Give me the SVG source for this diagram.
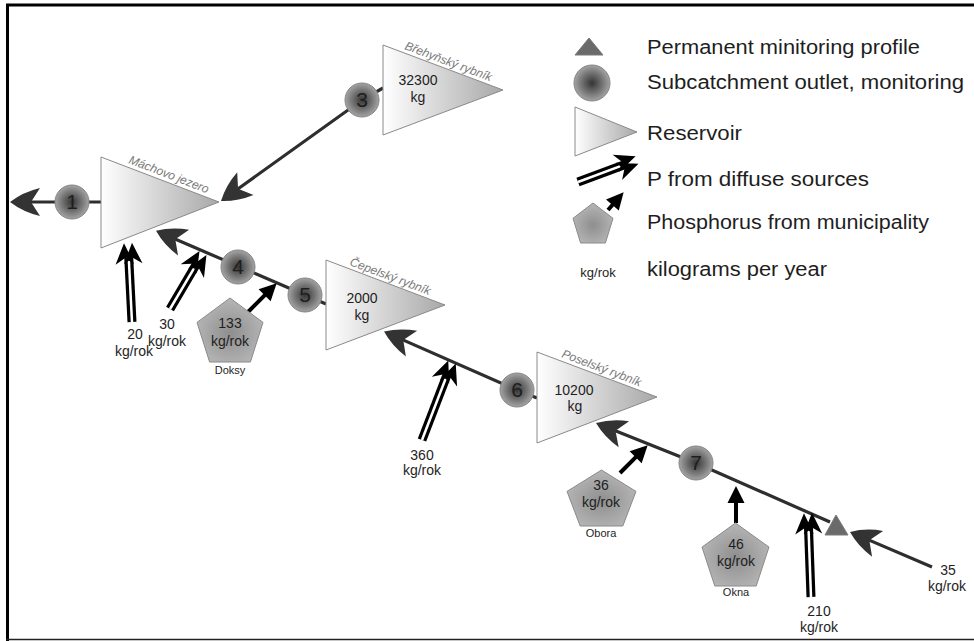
<svg xmlns="http://www.w3.org/2000/svg" width="974" height="641" viewBox="0 0 974 641">
<style>
text{font-family:"Liberation Sans",Arial,sans-serif;fill:#1e1e1e}
.num{font-size:21px;text-anchor:middle}
.val{font-size:14px;text-anchor:middle}
.town{font-size:11px;text-anchor:middle}
.lake{font-size:12px;font-style:italic;fill:#7a7a7a}
.leg{font-size:20px}
.res{fill:url(#res);stroke:#8a8a8a;stroke-width:1}
.circ{fill:url(#circ);stroke:#858585;stroke-width:1}
.pent{fill:url(#pent);stroke:#8a8a8a;stroke-width:1}
.flow{fill:none;stroke:#2e2e2e;stroke-width:3.2}
.muni{fill:none;stroke:#000;stroke-width:4}
.dif{fill:none;stroke:#000;stroke-width:9}
.difw{fill:none;stroke:#fff;stroke-width:2.5}
</style>
<defs>
<linearGradient id="res" x1="0" y1="0" x2="1" y2="0">
<stop offset="0" stop-color="#ffffff"/><stop offset="1" stop-color="#a8a8a8"/>
</linearGradient>
<radialGradient id="circ" cx="0.5" cy="0.5" r="0.5">
<stop offset="0" stop-color="#353535"/><stop offset="0.6" stop-color="#767676"/><stop offset="1" stop-color="#a4a4a4"/>
</radialGradient>
<radialGradient id="pent" cx="0.5" cy="0.55" r="0.55">
<stop offset="0" stop-color="#8e8e8e"/><stop offset="1" stop-color="#b6b6b6"/>
</radialGradient>
<marker id="mflow" markerUnits="userSpaceOnUse" orient="auto" overflow="visible" refX="-10" refY="0" markerWidth="1" markerHeight="1">
<path d="M0,0 Q-13,-10 -30,-14 L-21,0 L-30,14 Q-13,10 0,0 Z" fill="#333"/>
</marker>
<marker id="mmuni" markerUnits="userSpaceOnUse" orient="auto" overflow="visible" refX="0" refY="0" markerWidth="1" markerHeight="1">
<path d="M9,0 L-8,-8.5 L-8,8.5 Z" fill="#000"/>
</marker>
<marker id="mdif" markerUnits="userSpaceOnUse" orient="auto" overflow="visible" refX="-12" refY="0" markerWidth="1" markerHeight="1">
<path d="M0,-4 L-21,-13.5 L-15,-4 L-21,5 Z M0,4 L-21,-5 L-15,4 L-21,13.5 Z" fill="#000"/>
</marker>
</defs>
<rect width="974" height="641" fill="#fff"/>
<g id="frame">
<path d="M7.5,641 V5 H974" fill="none" stroke="#000" stroke-width="3"/>
<path d="M6,639.5 H974" fill="none" stroke="#222" stroke-width="1.5"/>
</g>
<g id="connectors">
<path class="flow" d="M101,202 H20" marker-end="url(#mflow)"/>
<path class="flow" d="M383,88 L362,100 L229.1,195.2" marker-end="url(#mflow)"/>
<path class="flow" d="M326,304 L165.2,234.8" marker-end="url(#mflow)"/>
<path class="flow" d="M537,398 L517,390 L393.2,335.6" marker-end="url(#mflow)"/>
<path class="flow" d="M830,522 L696,463 L605.3,426.7" marker-end="url(#mflow)"/>
<path class="flow" d="M932,567 L859.2,535.9" marker-end="url(#mflow)"/>
<path class="muni" d="M248,312 L270.3,289.7" marker-end="url(#mmuni)"/>
<path class="muni" d="M620,473 L641.3,451.7" marker-end="url(#mmuni)"/>
<path class="muni" d="M736,523 L736,495" marker-end="url(#mmuni)"/>
<path class="dif" d="M132,322 L128.6,255"/><path class="difw" d="M132,322 L128.6,255" marker-end="url(#mdif)"/>
<path class="dif" d="M170,309 L196.9,263.3"/><path class="difw" d="M170,309 L196.9,263.3" marker-end="url(#mdif)"/>
<path class="dif" d="M422,440 L447.7,373.2"/><path class="difw" d="M422,440 L447.7,373.2" marker-end="url(#mdif)"/>
<path class="dif" d="M811,597 L808.4,525"/><path class="difw" d="M811,597 L808.4,525" marker-end="url(#mdif)"/>
</g>
<g id="res-machovo">
<polygon class="res" points="101,157 101,248 219,202"/>
<text class="lake" transform="translate(128,163) rotate(21)">Máchovo jezero</text>
</g>
<g id="res-brehynsky">
<polygon class="res" points="383,45 383,135 503,90"/>
<text class="lake" transform="translate(404,49) rotate(20.6)">Břehyňský rybník</text>
<text class="val" x="418" y="85">32300</text>
<text class="val" x="418" y="102">kg</text>
</g>
<g id="res-cepelsky">
<polygon class="res" points="326,260 326,350 445,305"/>
<text class="lake" transform="translate(349,265) rotate(20.7)">Čepelský rybník</text>
<text class="val" x="362" y="303">2000</text>
<text class="val" x="362" y="320">kg</text>
</g>
<g id="res-poselsky">
<polygon class="res" points="537,352 537,443 657,397"/>
<text class="lake" transform="translate(561,357) rotate(20.6)">Poselský rybník</text>
<text class="val" x="574" y="395">10200</text>
<text class="val" x="575" y="411">kg</text>
</g>
<g id="node1"><circle class="circ" cx="72" cy="202" r="17"/><text class="num" x="72" y="209">1</text></g>
<g id="node3"><circle class="circ" cx="362" cy="100" r="17"/><text class="num" x="362" y="107">3</text></g>
<g id="node4"><circle class="circ" cx="238" cy="267" r="17"/><text class="num" x="238" y="274">4</text></g>
<g id="node5"><circle class="circ" cx="305" cy="295" r="17"/><text class="num" x="305" y="302">5</text></g>
<g id="node6"><circle class="circ" cx="517" cy="390" r="17"/><text class="num" x="517" y="397">6</text></g>
<g id="node7"><circle class="circ" cx="696" cy="463" r="17"/><text class="num" x="696" y="470">7</text></g>
<g id="profile"><polygon points="825,535 836,515 848,535" fill="#6a6a6a" stroke="#7a7a7a"/></g>
<g id="doksy">
<polygon class="pent" points="230,298 263,322.4 250.4,362 209.6,362 197,322.4"/>
<text class="val" x="230" y="328">133</text>
<text class="val" x="230" y="346">kg/rok</text>
<text class="town" x="230" y="374">Doksy</text>
</g>
<g id="obora">
<polygon class="pent" points="601.5,470 636,491.4 622.8,526 580.2,526 567,491.4"/>
<text class="val" x="601" y="490">36</text>
<text class="val" x="601" y="507">kg/rok</text>
<text class="town" x="601" y="537">Obora</text>
</g>
<g id="okna">
<polygon class="pent" points="735.5,523 769,547.1 756.2,586 714.8,586 702,547.1"/>
<text class="val" x="736" y="549">46</text>
<text class="val" x="736" y="566">kg/rok</text>
<text class="town" x="736" y="596">Okna</text>
</g>
<g id="labels">
<text class="val" x="135" y="339">20</text><text class="val" x="134" y="356">kg/rok</text>
<text class="val" x="167" y="329">30</text><text class="val" x="167" y="346">kg/rok</text>
<text class="val" x="422" y="460">360</text><text class="val" x="422" y="475">kg/rok</text>
<text class="val" x="819" y="616">210</text><text class="val" x="819" y="632">kg/rok</text>
<text class="val" x="948" y="575">35</text><text class="val" x="947" y="591">kg/rok</text>
</g>
<g id="legend">
<polygon points="575,55 589,38 603,55" fill="#6a6a6a" stroke="#7a7a7a"/>
<circle class="circ" cx="592" cy="83" r="18"/>
<polygon class="res" points="575,107 575,156 637,132"/>
<path class="dif" d="M578,182 L625.8,164.2"/><path class="difw" d="M578,182 L625.8,164.2" marker-end="url(#mdif)"/>
<polygon class="pent" points="593,203 613,218.3 605.4,243 580.6,243 573,218.3"/>
<path class="muni" d="M608,210 L617.7,199" marker-end="url(#mmuni)"/>
<text x="598" y="277" style="font-size:13px;text-anchor:middle">kg/rok</text>
<text class="leg" x="647" y="54" textLength="273" lengthAdjust="spacingAndGlyphs">Permanent minitoring profile</text>
<text class="leg" x="647" y="89" textLength="317" lengthAdjust="spacingAndGlyphs">Subcatchment outlet, monitoring</text>
<text class="leg" x="647" y="140" textLength="95" lengthAdjust="spacingAndGlyphs">Reservoir</text>
<text class="leg" x="647" y="186" textLength="222" lengthAdjust="spacingAndGlyphs">P from diffuse sources</text>
<text class="leg" x="647" y="229" textLength="282" lengthAdjust="spacingAndGlyphs">Phosphorus from municipality</text>
<text class="leg" x="647" y="276" textLength="180" lengthAdjust="spacingAndGlyphs">kilograms per year</text>
</g>
</svg>
